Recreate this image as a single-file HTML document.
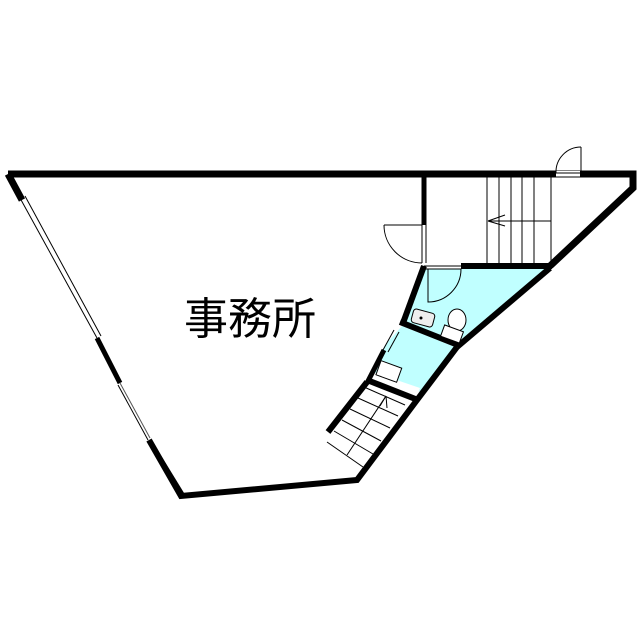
<!DOCTYPE html>
<html><head><meta charset="utf-8"><style>
html,body{margin:0;padding:0;background:#fff;}
svg{display:block}
</style></head><body>
<svg width="640" height="640" viewBox="0 0 640 640" xmlns="http://www.w3.org/2000/svg">
<!-- cyan areas -->
<polygon points="426,269 545,269 458,342 403,322 410,300" fill="#c0ffff"/>
<polygon points="402,326 455,347 424,393 370,376 385,345" fill="#c0ffff"/>
<polygon points="373,372 420,388 415,400 368,382" fill="#fff"/>
<!-- outer walls -->
<polyline points="8,174 633,174 633,188 550,266" fill="none" stroke="#000" stroke-width="7"/>
<line x1="550" y1="268" x2="457" y2="347" stroke="#000" stroke-width="6"/>
<polyline points="457,347 417,400 357,480 181,496 149,440" fill="none" stroke="#000" stroke-width="6"/>
<!-- left wall -->
<line x1="8" y1="174" x2="22" y2="200" stroke="#000" stroke-width="7"/>
<line x1="20" y1="198" x2="97" y2="338" stroke="#000" stroke-width="1"/>
<line x1="25" y1="196" x2="101" y2="336" stroke="#000" stroke-width="1"/>
<line x1="97" y1="338" x2="120" y2="383" stroke="#000" stroke-width="5"/>
<line x1="120" y1="383" x2="150" y2="438" stroke="#555" stroke-width="1"/>
<line x1="118" y1="385" x2="148" y2="440" stroke="#000" stroke-width="1"/>
<line x1="153" y1="447" x2="183" y2="496" stroke="#000" stroke-width="5"/>
<!-- top door -->
<rect x="556" y="171" width="24" height="6" fill="#fff"/>
<line x1="556" y1="173" x2="580" y2="173" stroke="#000" stroke-width="1"/>
<line x1="556" y1="177" x2="580" y2="177" stroke="#000" stroke-width="1"/>
<line x1="581" y1="147" x2="581" y2="173" stroke="#000" stroke-width="1"/>
<path d="M556,173 A25,25 0 0 1 581,147" fill="none" stroke="#000" stroke-width="1"/>
<!-- stair room walls -->
<line x1="424" y1="174" x2="424" y2="225" stroke="#000" stroke-width="5"/>
<line x1="422" y1="225" x2="422" y2="263" stroke="#000" stroke-width="1"/>
<line x1="426" y1="225" x2="426" y2="263" stroke="#000" stroke-width="1"/>
<path d="M384,225 L422,225 M384,225 A38,38 0 0 0 422,263" fill="none" stroke="#000" stroke-width="1"/>
<line x1="461" y1="266" x2="552" y2="266" stroke="#000" stroke-width="6"/>
<line x1="424" y1="266" x2="461" y2="266" stroke="#000" stroke-width="1"/>
<line x1="424" y1="269" x2="461" y2="269" stroke="#000" stroke-width="1"/>
<path d="M428,269 L428,302 A33,33 0 0 0 461,269" fill="none" stroke="#000" stroke-width="1"/>
<!-- stairs top -->
<g stroke="#000" stroke-width="1">
<line x1="487" y1="177" x2="487" y2="263"/>
<line x1="499" y1="177" x2="499" y2="263"/>
<line x1="511" y1="177" x2="511" y2="263"/>
<line x1="522" y1="177" x2="522" y2="263"/>
<line x1="534" y1="177" x2="534" y2="263"/>
<line x1="551" y1="177" x2="551" y2="263"/>
<line x1="488" y1="221" x2="551" y2="221"/>
<line x1="488" y1="221" x2="505" y2="215"/>
<line x1="488" y1="221" x2="505" y2="226"/>
</g>
<!-- toilet walls -->
<line x1="424" y1="266" x2="403" y2="323" stroke="#000" stroke-width="6"/>
<line x1="400" y1="322" x2="458" y2="345" stroke="#000" stroke-width="6"/>
<line x1="394" y1="330" x2="383" y2="350" stroke="#000" stroke-width="1"/>
<line x1="399" y1="332" x2="388" y2="352" stroke="#000" stroke-width="1"/>
<line x1="384" y1="350" x2="367" y2="383" stroke="#000" stroke-width="5"/>
<line x1="367" y1="380" x2="418" y2="400" stroke="#000" stroke-width="6"/>
<line x1="367" y1="382" x2="328" y2="432" stroke="#000" stroke-width="6"/>
<!-- sink and toilet fixtures -->
<rect x="412" y="311" width="22" height="14" rx="3" fill="#eee" stroke="#000" stroke-width="1" transform="rotate(15 423 318)"/>
<circle cx="421" cy="318" r="1.5" fill="#000"/>
<ellipse cx="457" cy="320" rx="9" ry="11" fill="#fff" stroke="#000" stroke-width="1"/>
<rect x="442" y="328" width="20" height="12" fill="#fff" stroke="#000" stroke-width="1" transform="rotate(20 452 334)"/>
<rect x="378" y="364" width="22" height="15" fill="#fff" stroke="#000" stroke-width="1" transform="rotate(20 389 371)"/>
<!-- lower stairs -->
<g stroke="#000" stroke-width="1">
<line x1="327" y1="442" x2="363" y2="467"/>
<line x1="334" y1="431" x2="373" y2="454"/>
<line x1="342" y1="420" x2="381" y2="441"/>
<line x1="350" y1="409" x2="390" y2="428"/>
<line x1="358" y1="398" x2="398" y2="416"/>
<line x1="364" y1="387" x2="405" y2="405"/>
<line x1="347" y1="455" x2="386" y2="396"/>
<line x1="386" y1="396" x2="380" y2="406"/>
<line x1="386" y1="396" x2="387" y2="408"/>
</g>
<text x="184" y="334" font-family="'Liberation Sans','Noto Sans CJK JP',sans-serif" font-size="44" fill="#000">事務所</text>
</svg>
</body></html>
